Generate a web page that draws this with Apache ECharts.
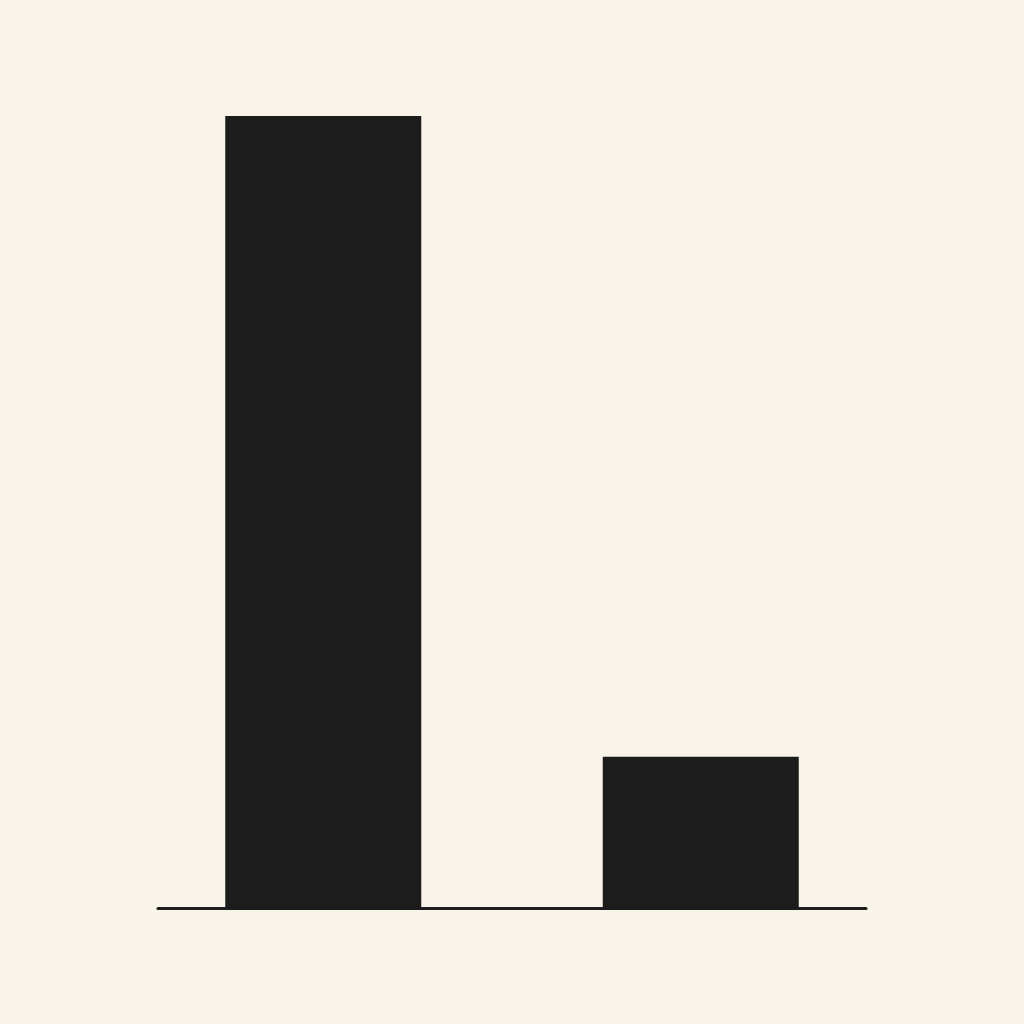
<!DOCTYPE html>
<html>
<head>
<meta charset="utf-8">
<script src="https://cdn.jsdelivr.net/npm/echarts@6/dist/echarts.min.js"></script>
<style>
  html, body { margin: 0; padding: 0; background: #f8f4ea; }
  #chart { width: 1024px; height: 1024px; }
</style>
</head>
<body>
<div id="chart"></div>
<script>
// categories (no visible labels in the picture)
var categories = ['A', 'B']
// bar heights, axis runs 0..100
var values = [100, 19.3]
var yMax = 100

var ink = '#1b1c1b'

var myChart = echarts.init(document.getElementById('chart'))
myChart.setOption({
  backgroundColor: '#f8f4ea',
  animation: false,
  grid: [
    // bars
    { left: 134.5, right: 134.5, top: 116, bottom: 114 },
    // baseline only
    { left: 158, right: 158, top: 116, bottom: 115.5 }
  ],
  xAxis: [
    {
      type: 'category',
      gridIndex: 0,
      data: categories,
      axisLine: { show: false },
      axisTick: { show: false },
      axisLabel: { show: false }
    },
    {
      type: 'category',
      gridIndex: 1,
      data: [''],
      axisLine: { show: true, lineStyle: { color: ink, width: 3 } },
      axisTick: { show: false },
      axisLabel: { show: false }
    }
  ],
  yAxis: [
    {
      type: 'value',
      gridIndex: 0,
      min: 0,
      max: yMax,
      axisLine: { show: false },
      axisTick: { show: false },
      axisLabel: { show: false },
      splitLine: { show: false }
    },
    {
      type: 'value',
      gridIndex: 1,
      min: 0,
      max: 1,
      axisLine: { show: false },
      axisTick: { show: false },
      axisLabel: { show: false },
      splitLine: { show: false }
    }
  ],
  series: [
    {
      type: 'bar',
      xAxisIndex: 0,
      yAxisIndex: 0,
      data: values,
      barWidth: 196,
      itemStyle: { color: ink },
      z: 3
    },
    {
      type: 'bar',
      xAxisIndex: 1,
      yAxisIndex: 1,
      data: [0],
      itemStyle: { color: 'transparent' }
    }
  ]
})
</script>
</body>
</html>
